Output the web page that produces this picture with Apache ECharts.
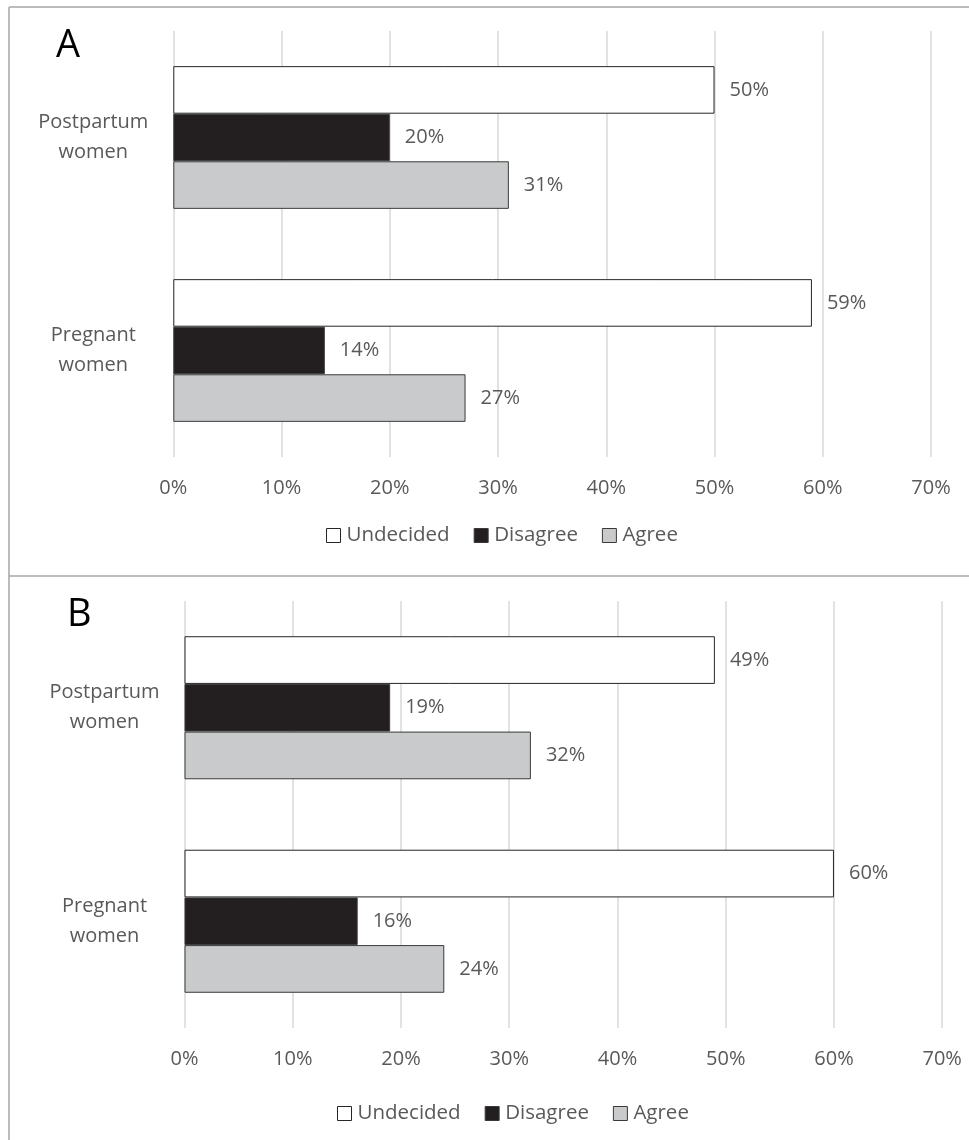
<!DOCTYPE html>
<html>
<head>
<meta charset="utf-8">
<script src="https://cdn.jsdelivr.net/npm/echarts@6/dist/echarts.min.js"></script>
<style>
  html, body { margin: 0; padding: 0; background: #ffffff; }
  #chart { width: 969px; height: 1140px; }
</style>
</head>
<body>
<div id="chart"></div>
<script>
// Categories (bottom to top, as drawn on a horizontal bar chart)
const categories = ['Pregnant\nwomen', 'Postpartum\nwomen'];
const legendOrder = ['Undecided', 'Disagree', 'Agree'];
const xTicks = [0, 10, 20, 30, 40, 50, 60, 70];

// Panel A percentages, [Pregnant, Postpartum]
const undecidedA = [59, 50];
const disagreeA = [14, 20];
const agreeA = [27, 31];

// Panel B percentages, [Pregnant, Postpartum]
const undecidedB = [60, 49];
const disagreeB = [16, 19];
const agreeB = [24, 32];

const FONT = 'Open Sans';
const TEXT_GREY = '#595959';

const styles = {
  Undecided: { color: '#ffffff', borderColor: '#262626' },
  Disagree: { color: '#231f20', borderColor: '#3a3a3a' },
  Agree: { color: '#c9cacb', borderColor: '#3a3a3a' }
};

function barSeries(name, data, idx) {
  return {
    name: name,
    type: 'bar',
    xAxisIndex: idx,
    yAxisIndex: idx,
    data: data,
    barGap: '0%',
    barCategoryGap: '33%',
    itemStyle: { color: styles[name].color, borderColor: styles[name].borderColor, borderWidth: 1 },
    label: {
      show: true,
      position: 'right',
      distance: 15,
      formatter: '{c}%',
      color: TEXT_GREY,
      fontFamily: FONT,
      fontSize: 20
    },
    emphasis: { disabled: true }
  };
}

function xAxis(idx) {
  return {
    type: 'value',
    gridIndex: idx,
    min: xTicks[0],
    max: xTicks[xTicks.length - 1],
    interval: 10,
    axisLine: { show: false },
    axisTick: { show: false },
    splitLine: { show: true, lineStyle: { color: '#d9d9d9', width: 1.5 } },
    axisLabel: { formatter: '{value}%', color: TEXT_GREY, fontFamily: FONT, fontSize: 20, margin: 21 }
  };
}

function yAxis(idx) {
  return {
    type: 'category',
    gridIndex: idx,
    data: categories,
    axisLine: { show: false },
    axisTick: { show: false },
    axisLabel: {
      color: TEXT_GREY,
      fontFamily: FONT,
      fontSize: 20,
      lineHeight: 30,
      align: 'center',
      margin: 80
    }
  };
}

function legend(left, top) {
  return {
    data: legendOrder,
    left: left,
    top: top,
    padding: 0,
    itemWidth: 14,
    itemHeight: 14,
    itemGap: 24,
    icon: 'rect',
    selectedMode: false,
    textStyle: { color: TEXT_GREY, fontFamily: FONT, fontSize: 20.5, padding: [0, 0, 0, 1] },
    itemStyle: { borderWidth: 1 }
  };
}

const chart = echarts.init(document.getElementById('chart'), null, { renderer: 'canvas' });

chart.setOption({
  animation: false,
  backgroundColor: '#ffffff',
  title: [
    { text: 'A', left: 51, top: 22, textStyle: { fontFamily: FONT, fontSize: 38, fontWeight: 'normal', color: '#000000' } },
    { text: 'B', left: 62, top: 591, textStyle: { fontFamily: FONT, fontSize: 38, fontWeight: 'normal', color: '#000000' } }
  ],
  grid: [
    { left: 173.3, top: 31, width: 757.7, height: 426, containLabel: false },
    { left: 184.5, top: 601, width: 757.7, height: 427, containLabel: false }
  ],
  xAxis: [xAxis(0), xAxis(1)],
  yAxis: [yAxis(0), yAxis(1)],
  legend: [legend(326, 525), legend(337, 1103)],
  // within each category band, the first series sits at the top
  series: [
    barSeries('Undecided', undecidedA, 0),
    barSeries('Disagree', disagreeA, 0),
    barSeries('Agree', agreeA, 0),
    barSeries('Undecided', undecidedB, 1),
    barSeries('Disagree', disagreeB, 1),
    barSeries('Agree', agreeB, 1)
  ],
  graphic: [
    // panel frame: top edge, left edge and divider between the two panels
    { type: 'line', shape: { x1: 9, y1: 7, x2: 969, y2: 7 }, style: { stroke: '#a6a6a6', lineWidth: 1.5 } },
    { type: 'line', shape: { x1: 9, y1: 7, x2: 9, y2: 1140 }, style: { stroke: '#a6a6a6', lineWidth: 1.5 } },
    { type: 'line', shape: { x1: 9, y1: 576, x2: 969, y2: 576 }, style: { stroke: '#a6a6a6', lineWidth: 1.5 } }
  ]
});
</script>
</body>
</html>
